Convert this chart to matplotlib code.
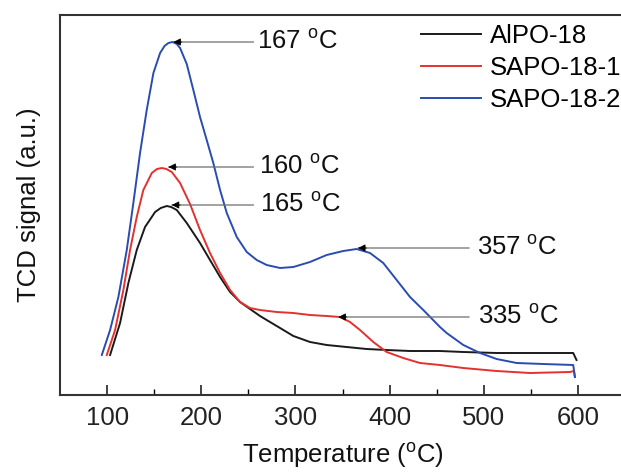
import matplotlib
matplotlib.use("Agg")
import matplotlib.pyplot as plt

plt.rcParams['font.family'] = ['Liberation Sans', 'DejaVu Sans']
plt.rcParams['mathtext.fontset'] = 'custom'
plt.rcParams['mathtext.rm'] = 'Liberation Sans'
plt.rcParams['mathtext.it'] = 'Liberation Sans'

# ---- data ----
blue_T = [94.4, 103.2, 112.0, 120.9, 127.9, 135.0, 142.1, 149.2, 156.3, 161.0, 165.1, 169.5, 174.0,
          177.5, 184.6, 191.6, 198.7, 205.8, 212.8, 220.0, 227.1, 237.7, 248.3, 258.9, 269.5,
          283.7, 297.8, 315.5, 333.2, 350.8, 365.0, 379.2, 393.3, 407.5, 421.7, 435.8, 453.5,
          460.6, 478.3, 496.0, 513.7, 535.0, 563.2, 595.0, 596.8]
blue_S = [39, 64, 97, 144, 191, 241, 284, 321, 341, 348, 351, 352, 350,
          346, 330, 304, 277, 254, 231, 204, 181, 157, 142, 134, 129,
          126, 127, 132, 139, 143, 145, 141, 131, 114, 97, 84, 67,
          61, 49, 41, 35, 31, 30, 29, 17]

red_T = [99.7, 108.5, 117.3, 124.4, 131.5, 138.5, 147.5, 153.0, 158.1, 163.0, 168.7, 177.5, 188.1,
         198.7, 209.3, 220.0, 230.6, 241.2, 251.8, 262.4, 280.1, 297.8, 315.5, 333.2, 347.3,
         358.0, 368.6, 382.7, 396.9, 414.5, 432.3, 453.5, 478.3, 513.7, 549.0, 591.5, 595.8, 596.8]
red_S = [39, 64, 104, 144, 177, 204, 221, 225, 226, 225, 222, 211, 190,
         164, 141, 121, 104, 92, 86, 84, 82, 81, 79, 78, 77,
         72, 64, 52, 42, 36, 31, 29, 26, 23, 21, 22, 23, 17]

black_T = [103.2, 113.8, 122.6, 131.5, 140.3, 151.0, 157.0, 163.4, 168.0, 174.0, 184.6,
           198.7, 209.3, 220.0, 230.6, 241.2, 251.8, 262.4, 273.0, 283.7, 297.8, 315.5, 333.2,
           354.4, 375.6, 396.9, 421.7, 453.5, 478.3, 513.7, 549.0, 595.0, 598.5]
black_S = [39, 71, 111, 144, 167, 182, 186, 188, 187, 184, 171,
           151, 134, 117, 102, 92, 85, 78, 72, 66, 58, 52, 49,
           47, 45, 44, 43, 43, 42, 41, 41, 41, 34]

series_names = ['AlPO-18', 'SAPO-18-1', 'SAPO-18-2']

peak_labels = ['167', '160', '165', '357', '335']
peak_T = [170.4, 165.1, 168.7, 366.5, 345.6]
peak_S = [352, 227, 189, 146, 77]
label_T = [259.7, 261.8, 262.5, 492.9, 494.0]
tail_T = [255.5, 255.5, 255.5, 484.5, 484.5]

xticks = [100, 200, 300, 400, 500, 600]

# ---- figure ----
fig = plt.figure(figsize=(6.21, 4.74), dpi=100)
ax = fig.add_axes([60/621, 1-395/474, (625-60)/621, 380/474])

c_black = '#1a1a1a'
c_red = '#e4312f'
c_blue = '#2a4cb0'
lw = 1.4
ax.plot(black_T, black_S, color=c_black, lw=lw, label=series_names[0])
ax.plot(red_T, red_S, color=c_red, lw=lw, label=series_names[1])
ax.plot(blue_T, blue_S, color=c_blue, lw=lw, label=series_names[2])

ax.set_xlim(50, 650)
ax.set_ylim(-1, 379)

fs = 18.5
for lab, pt, ps, lt, tt in zip(peak_labels, peak_T, peak_S, label_T, tail_T):
    ax.annotate('', xy=(pt, ps), xytext=(tt, ps),
                arrowprops=dict(arrowstyle='-', color='#6e6e6e', lw=0.9,
                                shrinkA=0, shrinkB=0))
    ax.annotate('', xy=(pt, ps), xytext=(pt + 9, ps),
                arrowprops=dict(arrowstyle='-|>', fc='k', ec='k', lw=0.6,
                                mutation_scale=11, shrinkA=0, shrinkB=0))
    ax.text(lt, ps, lab + r' $^{\mathrm{o}}$C', fontsize=fs, ha='left', va='center',
            color='#111111')

ax.set_xticks(xticks)
ax.set_xticks([150, 250, 350, 450, 550], minor=True)
ax.set_yticks([])
ax.tick_params(axis='x', which='major', direction='in', length=7, width=1.2,
               labelsize=fs, pad=8, colors='#222222')
ax.tick_params(axis='x', which='minor', direction='in', length=4, width=1.0)
ax.spines['right'].set_visible(False)
for s in ['left', 'bottom', 'top']:
    ax.spines[s].set_linewidth(1.5)
    ax.spines[s].set_color('#333333')

ax.set_xlabel(r'Temperature ($^{\mathrm{o}}$C)', fontsize=fs, labelpad=8, color='#111111')
ax.set_ylabel('TCD signal (a.u.)', fontsize=fs, labelpad=14, color='#111111')

leg = fig.legend(loc='upper right', bbox_to_anchor=(1.0, 0.95), frameon=False,
                 fontsize=fs, handlelength=2.3, handletextpad=0.35,
                 labelspacing=0.32, borderpad=0, borderaxespad=0)

fig.savefig('out.png', dpi=100)
